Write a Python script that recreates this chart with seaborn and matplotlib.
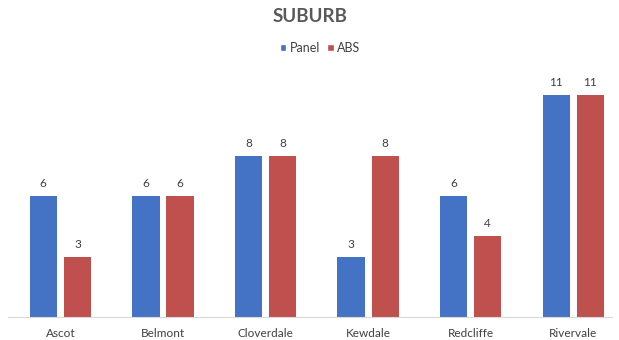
import matplotlib
matplotlib.use("Agg")
import matplotlib.pyplot as plt
import seaborn as sns
import pandas as pd
from matplotlib.patches import Patch

suburbs = ["Ascot", "Belmont", "Cloverdale", "Kewdale", "Redcliffe", "Rivervale"]
panel = [6, 6, 8, 3, 6, 11]
abs_counts = [3, 6, 8, 8, 4, 11]
series = ["Panel", "ABS"]
colors = ["#4472C4", "#C0504D"]

df = pd.DataFrame({
    "Suburb": suburbs * 2,
    "Count": panel + abs_counts,
    "Source": ["Panel"] * len(suburbs) + ["ABS"] * len(suburbs),
})

sns.set_theme(style="white")
plt.rcParams["font.family"] = ["Lato", "DejaVu Sans"]

fig = plt.figure(figsize=(6.19, 3.40), dpi=100)
ax = fig.add_axes([8 / 619, 1 - 317 / 340, (612 - 8) / 619, (317 - 75) / 340])

sns.barplot(data=df, x="Suburb", y="Count", hue="Source", hue_order=series,
            palette=colors, width=0.665, gap=0.2, saturation=1, ax=ax,
            legend=False, errorbar=None, linewidth=0)

for cont in ax.containers:
    ax.bar_label(cont, fmt="%g", padding=5, fontsize=8.5, color="#404040")

ax.set_xlim(-0.51, 5.377)
ax.set_ylim(0, 12)
ax.set_xlabel("")
ax.set_ylabel("")
ax.set_yticks([])
ax.tick_params(axis="x", length=0, labelsize=8.5, labelcolor="#404040", pad=8)
for side in ["top", "right", "left"]:
    ax.spines[side].set_visible(False)
ax.spines["bottom"].set_color("#D9D9D9")
ax.spines["bottom"].set_linewidth(0.8)

fig.text(0.5, 1 - 17 / 340, "SUBURB", ha="center", va="center",
         fontsize=13.5, fontweight="bold", color="#595959")

handles = [Patch(facecolor=c, label=s) for c, s in zip(colors, series)]
fig.legend(handles=handles, loc="center", bbox_to_anchor=(320 / 619, 1 - 48 / 340),
           ncol=2, frameon=False, fontsize=9, handlelength=0.5, handleheight=0.5,
           handletextpad=0.25, columnspacing=0.6, labelcolor="#404040")

fig.savefig("out.png", dpi=100)
